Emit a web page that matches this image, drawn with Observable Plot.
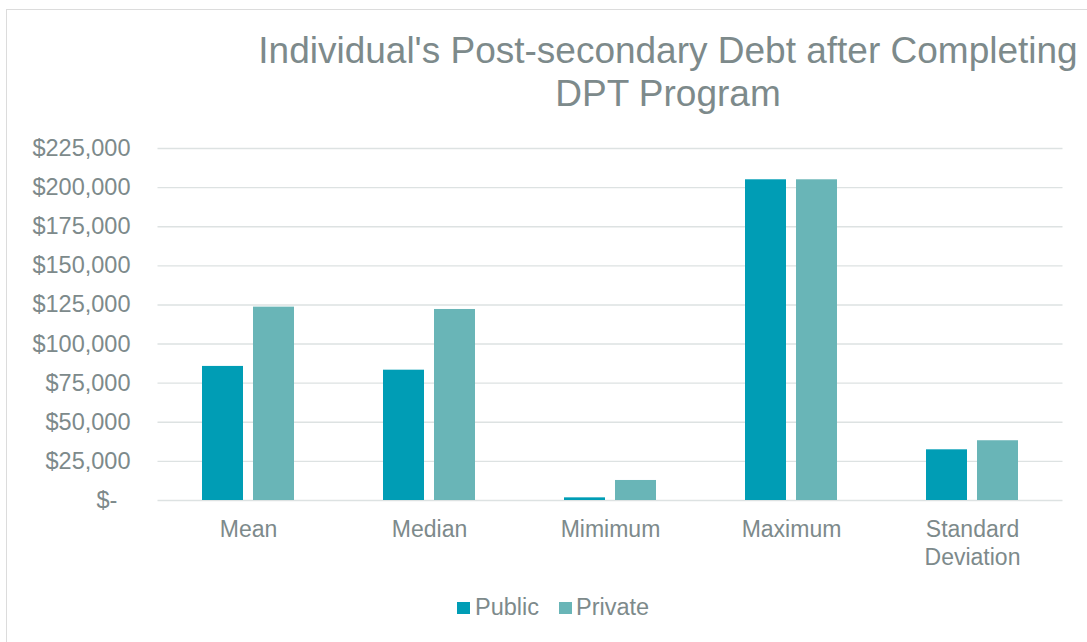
<!DOCTYPE html>
<html>
<head>
<meta charset="utf-8">
<script src="https://cdn.jsdelivr.net/npm/d3@7"></script>
<script src="https://cdn.jsdelivr.net/npm/@observablehq/plot@0.6"></script>
<style>
  html, body { margin: 0; padding: 0; background: #fff; }
  body { font-family: "Liberation Sans", Arial, sans-serif; }
  #wrap { position: relative; width: 1087px; height: 642px; overflow: hidden; background: #fff; }
  #frame { position: absolute; left: 6px; top: 9px; width: 1100px; height: 700px; border-left: 1.5px solid #dcdcdc; border-top: 1.5px solid #dcdcdc; }
  #title { position: absolute; left: 0; width: 1336px; top: 29px; text-align: center; font-size: 37px; line-height: 43px; color: #7d8a8b; white-space: nowrap; }
  #chart { position: absolute; left: 0; top: 130px; }
  #legend { position: absolute; top: 592px; left: 0; width: 1087px; height: 30px; font-size: 23.5px; color: #7d8a8b; }
  .sw { position: absolute; top: 10px; width: 13px; height: 12px; }
  .lt { position: absolute; top: 0; line-height: 30px; }
</style>
</head>
<body>
<div id="wrap">
  <div id="frame"></div>
  <div id="title">Individual's Post-secondary Debt after Completing<br>DPT Program</div>
  <div id="chart"></div>
  <div id="legend"></div>
</div>
<script>
const categories = ["Mean", "Median", "Mimimum", "Maximum", "Standard Deviation"];
const seriesNames = ["Public", "Private"];
const publicValues = [85700, 83300, 1700, 205000, 32400];
const privateValues = [123600, 122100, 12800, 205000, 38200];
const yTicks = [0, 25000, 50000, 75000, 100000, 125000, 150000, 175000, 200000, 225000];
const seriesColors = ["#009db5", "#69b5b7"];

const rows = [];
categories.forEach((c, i) => {
  rows.push({category: c, series: "Public", value: publicValues[i]});
  rows.push({category: c, series: "Private", value: privateValues[i]});
});

const textColor = "#7d8a8b";
const fmt = d3.format(",");

const chart = Plot.plot({
  width: 1087,
  height: 450,
  marginLeft: 157.5,
  marginRight: 24.5,
  marginTop: 18,
  marginBottom: 80,
  style: {fontFamily: '"Liberation Sans", Arial, sans-serif', background: "transparent", overflow: "visible"},
  x: {domain: categories, paddingInner: 0.492, paddingOuter: 0.246, label: null},
  y: {domain: [0, 225000], label: null},
  color: {domain: seriesNames, range: seriesColors},
  marks: [
    Plot.ruleY(yTicks, {stroke: "#dde2e2", strokeWidth: 1.4}),
    Plot.barY(rows.filter(d => d.series === "Public"), {x: "category", y: "value", fill: "series", insetRight: 51}),
    Plot.barY(rows.filter(d => d.series === "Private"), {x: "category", y: "value", fill: "series", insetLeft: 51}),
    Plot.axisY(yTicks, {
      tickSize: 0, tickPadding: 27.5, fontSize: 23.5, color: textColor, label: null,
      tickFormat: d => d === 0 ? "$-\u00a0\u00a0" : "$" + fmt(d)
    }),
    Plot.axisX({
      tickSize: 0, tickPadding: 17, fontSize: 23, lineHeight: 1.2, color: textColor, label: null,
      tickFormat: d => d === "Standard Deviation" ? "Standard\nDeviation" : d
    })
  ]
});
document.getElementById("chart").appendChild(chart);

// Legend
const legend = document.getElementById("legend");
const legendItems = [
  {name: seriesNames[0], color: seriesColors[0], sx: 457, tx: 475},
  {name: seriesNames[1], color: seriesColors[1], sx: 559, tx: 576}
];
legendItems.forEach(it => {
  const s = document.createElement("div");
  s.className = "sw"; s.style.left = it.sx + "px"; s.style.background = it.color;
  legend.appendChild(s);
  const t = document.createElement("div");
  t.className = "lt"; t.style.left = it.tx + "px"; t.textContent = it.name;
  legend.appendChild(t);
});
</script>
</body>
</html>
